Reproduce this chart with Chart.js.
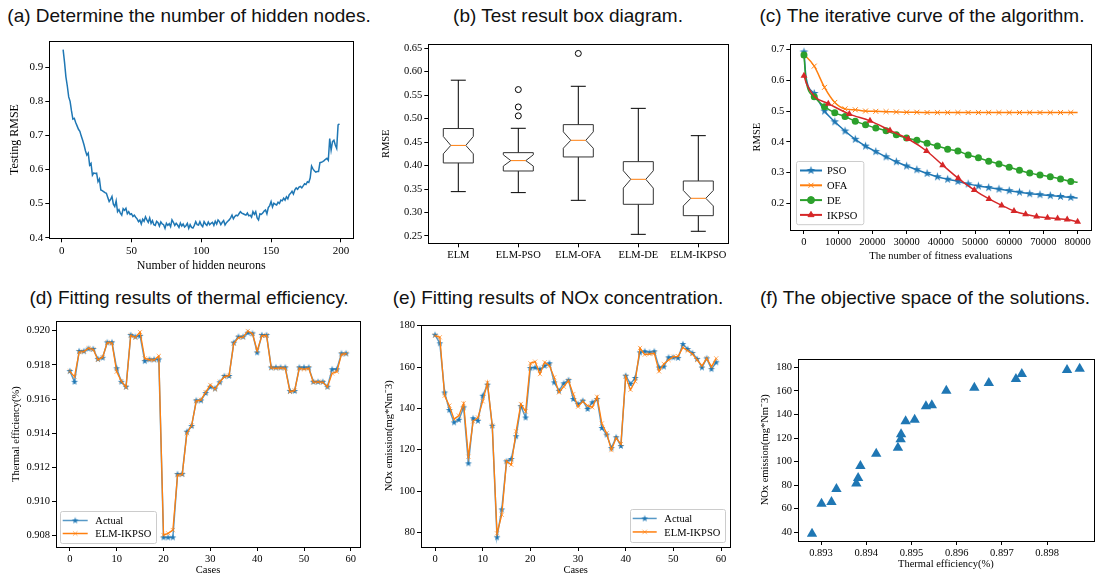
<!DOCTYPE html>
<html>
<head>
<meta charset="utf-8">
<script src="https://cdn.jsdelivr.net/npm/chart.js@4.4.1/dist/chart.umd.min.js"></script>
<style>
body { margin: 0; background: #fff; width: 1113px; height: 574px; position: relative; overflow: hidden; font-family: "Liberation Sans", Arial, sans-serif; }
.title { position: absolute; font-size: 19px; line-height: 22px; color: #111; white-space: nowrap; transform: translateX(-50%); }
canvas { position: absolute; }
</style>
</head>
<body>
<div class="title" style="left:189px;top:5px">(a) Determine the number of hidden nodes.</div>
<div class="title" style="left:568px;top:5px">(b) Test result box diagram.</div>
<div class="title" style="left:922px;top:5px">(c) The iterative curve of the algorithm.</div>
<div class="title" style="left:189px;top:287px">(d) Fitting results of thermal efficiency.</div>
<div class="title" style="left:558px;top:287px">(e) Fitting results of NOx concentration.</div>
<div class="title" style="left:925px;top:287px">(f) The objective space of the solutions.</div>

<canvas id="chartA" width="365" height="248" style="left:0px;top:30px"></canvas>
<canvas id="chartB" width="362" height="235" style="left:372px;top:30px"></canvas>
<canvas id="chartC" width="365" height="236" style="left:742px;top:30px"></canvas>
<canvas id="chartD" width="368" height="268" style="left:0px;top:310px"></canvas>
<canvas id="chartE" width="366" height="268" style="left:372px;top:310px"></canvas>
<canvas id="chartF" width="371" height="234" style="left:742px;top:340px"></canvas>

<script>
// ---- (a) testing RMSE vs hidden neurons (1..199)
var hiddenRmse = [
  0.952, 0.915, 0.872, 0.845, 0.813, 0.800, 0.772, 0.748, 0.750, 0.738,
  0.728, 0.718, 0.712, 0.698, 0.686, 0.672, 0.655, 0.642, 0.648, 0.613,
  0.618, 0.583, 0.590, 0.588, 0.589, 0.564, 0.572, 0.540, 0.538, 0.535,
  0.532, 0.530, 0.518, 0.506, 0.512, 0.521, 0.498, 0.491, 0.508, 0.476,
  0.482, 0.472, 0.466, 0.485, 0.480, 0.486, 0.470, 0.476, 0.468, 0.470,
  0.462, 0.466, 0.460, 0.455, 0.447, 0.452, 0.440, 0.454, 0.448, 0.461,
  0.452, 0.445, 0.458, 0.442, 0.450, 0.438, 0.436, 0.448, 0.444, 0.434,
  0.446, 0.440, 0.438, 0.427, 0.442, 0.436, 0.441, 0.432, 0.452, 0.445,
  0.436, 0.442, 0.437, 0.430, 0.443, 0.434, 0.440, 0.431, 0.435, 0.442,
  0.427, 0.438, 0.430, 0.428, 0.436, 0.447, 0.438, 0.437, 0.447, 0.437,
  0.432, 0.447, 0.440, 0.436, 0.446, 0.438, 0.442, 0.445, 0.436, 0.448,
  0.440, 0.452, 0.447, 0.438, 0.445, 0.450, 0.437, 0.444, 0.448, 0.452,
  0.458, 0.466, 0.455, 0.462, 0.466, 0.464, 0.470, 0.476, 0.472, 0.470,
  0.468, 0.466, 0.472, 0.464, 0.466, 0.460, 0.476, 0.468, 0.476, 0.458,
  0.452, 0.470, 0.468, 0.472, 0.478, 0.481, 0.470, 0.488, 0.494, 0.506,
  0.490, 0.501, 0.498, 0.496, 0.504, 0.500, 0.510, 0.508, 0.516, 0.510,
  0.520, 0.514, 0.526, 0.530, 0.536, 0.528, 0.540, 0.546, 0.542, 0.548,
  0.550, 0.546, 0.552, 0.558, 0.556, 0.564, 0.562, 0.575, 0.610, 0.602,
  0.596, 0.592, 0.594, 0.594, 0.620, 0.621, 0.623, 0.626, 0.630, 0.633,
  0.627, 0.691, 0.657, 0.682, 0.686, 0.672, 0.662, 0.731, 0.734
];
var aXTicks = [0, 50, 100, 150, 200];
var aYTicks = [0.4, 0.5, 0.6, 0.7, 0.8, 0.9];

// ---- (b) box diagram
var boxNames = ['ELM', 'ELM-PSO', 'ELM-OFA', 'ELM-DE', 'ELM-IKPSO'];
var boxLow = [0.3445, 0.3424, 0.326, 0.2535, 0.260];
var boxQ1 = [0.4056, 0.3885, 0.4184, 0.3175, 0.2933];
var boxMed = [0.443, 0.4106, 0.4539, 0.3708, 0.3303];
var boxQ3 = [0.479, 0.4276, 0.4873, 0.4084, 0.3672];
var boxHigh = [0.582, 0.4795, 0.569, 0.522, 0.4638];
var notchLo = [0.425, 0.399, 0.437, 0.352, 0.314];
var notchHi = [0.462, 0.423, 0.472, 0.389, 0.347];
var outlierBox = [2, 2, 2, 3];
var outlierVal = [0.562, 0.525, 0.506, 0.639];
var bYTicks = [0.25, 0.30, 0.35, 0.40, 0.45, 0.50, 0.55, 0.60, 0.65];

// ---- (c) iterative curves
var evalX = [0, 600, 3000, 6000, 9000, 12000, 15000, 18000, 21000, 24000, 27000, 30000, 33000, 36000, 39000,
  42000, 45000, 48000, 51000, 54000, 57000, 60000, 63000, 66000, 69000, 72000, 75000, 78000, 80000];
var psoY = [0.692, 0.610, 0.557, 0.500, 0.465, 0.435, 0.408, 0.386, 0.368, 0.351, 0.335, 0.321, 0.309, 0.297, 0.286,
  0.278, 0.271, 0.263, 0.256, 0.251, 0.246, 0.241, 0.236, 0.231, 0.228, 0.225, 0.222, 0.219, 0.217];
var ofaY = [0.682, 0.677, 0.646, 0.577, 0.528, 0.507, 0.504, 0.500, 0.499, 0.498, 0.497, 0.496, 0.496, 0.495, 0.495,
  0.495, 0.495, 0.495, 0.495, 0.495, 0.495, 0.495, 0.495, 0.495, 0.495, 0.495, 0.495, 0.495, 0.495];
var deY = [0.682, 0.600, 0.546, 0.514, 0.494, 0.482, 0.467, 0.455, 0.445, 0.436, 0.423, 0.412, 0.405, 0.395, 0.386,
  0.376, 0.370, 0.357, 0.348, 0.337, 0.328, 0.317, 0.307, 0.298, 0.292, 0.286, 0.279, 0.271, 0.268];
var ikpsoX = [0, 700, 3000, 7100, 13250, 19300, 25150, 30500, 35850, 40550, 45100, 49800, 54100, 57800, 61400,
  64800, 68000, 71200, 74150, 76950, 80000];
var ikpsoY = [0.615, 0.590, 0.548, 0.524, 0.490, 0.468, 0.437, 0.409, 0.370, 0.324, 0.281, 0.243, 0.214, 0.193, 0.175,
  0.164, 0.157, 0.153, 0.150, 0.147, 0.140];
var cXTicks = [0, 10000, 20000, 30000, 40000, 50000, 60000, 70000, 80000];
var cYTicks = [0.2, 0.3, 0.4, 0.5, 0.6, 0.7];

// ---- (d) thermal efficiency, 60 cases
var effActual = [0.91764, 0.91701, 0.91881, 0.91880, 0.91895, 0.91893, 0.91834, 0.91842, 0.91932, 0.91932,
  0.91780, 0.91701, 0.91672, 0.91975, 0.91965, 0.91970, 0.91822, 0.91832, 0.91832, 0.91832,
  0.90790, 0.90790, 0.90790, 0.91161, 0.91161, 0.91409, 0.91442, 0.91592, 0.91592, 0.91635,
  0.91672, 0.91662, 0.91698, 0.91735, 0.91735, 0.91930, 0.91965, 0.91965, 0.91988, 0.91984,
  0.91873, 0.91975, 0.91975, 0.91785, 0.91785, 0.91785, 0.91785, 0.91647, 0.91647, 0.91785,
  0.91785, 0.91785, 0.91701, 0.91701, 0.91701, 0.91672, 0.91774, 0.91774, 0.91867, 0.91867];
var effPred = [0.91762, 0.91731, 0.91875, 0.91878, 0.91897, 0.91890, 0.91830, 0.91845, 0.91930, 0.91928,
  0.91760, 0.91705, 0.91668, 0.91972, 0.91960, 0.91992, 0.91838, 0.91830, 0.91828, 0.91852,
  0.90804, 0.90814, 0.90833, 0.91155, 0.91158, 0.91400, 0.91445, 0.91588, 0.91595, 0.91640,
  0.91682, 0.91657, 0.91700, 0.91730, 0.91738, 0.91925, 0.91960, 0.91962, 0.91998, 0.91982,
  0.91883, 0.91970, 0.91972, 0.91782, 0.91780, 0.91782, 0.91780, 0.91642, 0.91650, 0.91780,
  0.91774, 0.91780, 0.91698, 0.91700, 0.91698, 0.91670, 0.91750, 0.91760, 0.91862, 0.91865];
var caseTicks = [0, 10, 20, 30, 40, 50, 60];
var dYTicks = [0.908, 0.910, 0.912, 0.914, 0.916, 0.918, 0.920];

// ---- (e) NOx concentration, 60 cases
var noxActual = [175.6, 171.5, 147.7, 139.2, 133.2, 134.5, 140.5, 113.4, 135.2, 134.0,
  146.1, 151.5, 131.6, 77.6, 91.1, 114.4, 115.5, 126.5, 141.1, 135.6,
  159.5, 159.8, 158.9, 160.6, 161.8, 152.6, 148.5, 152.1, 153.7, 144.5,
  142.1, 143.7, 139.7, 142.9, 144.5, 130.5, 127.3, 120.8, 126.0, 121.8,
  155.8, 151.8, 154.7, 167.1, 167.6, 167.1, 167.6, 159.8, 160.2, 164.7,
  164.7, 164.4, 171.1, 168.7, 166.8, 163.9, 159.8, 164.2, 159.0, 162.3];
var noxPred = [175.2, 174.4, 146.1, 141.3, 134.8, 136.5, 142.4, 116.6, 133.7, 135.6,
  143.4, 152.4, 131.6, 79.5, 88.5, 114.4, 112.7, 128.9, 142.1, 138.5,
  161.8, 162.6, 156.6, 162.3, 160.6, 155.0, 147.7, 150.5, 153.4, 146.9,
  140.8, 143.4, 141.3, 140.5, 145.6, 132.7, 127.9, 119.8, 125.6, 122.7,
  155.3, 149.0, 153.1, 169.2, 166.0, 166.3, 166.6, 157.9, 161.5, 163.4,
  165.0, 165.2, 169.5, 167.9, 166.3, 163.4, 160.6, 164.2, 160.2, 164.2];
var eYTicks = [80, 100, 120, 140, 160, 180];

// ---- (f) objective space
var solEff = [0.89280, 0.89301, 0.89323, 0.89334, 0.89378, 0.89382, 0.89387, 0.89422, 0.89470, 0.89476, 0.89477,
  0.89487, 0.89507, 0.89532, 0.89545, 0.89577, 0.89639, 0.89671, 0.89731, 0.89744, 0.89844, 0.89872];
var solNox = [38.8, 64.3, 65.7, 76.7, 81.3, 86.1, 96.3, 106.7, 111.8, 118.9, 123.1,
  134.2, 135.6, 146.9, 147.8, 160.2, 162.7, 166.7, 170.1, 174.3, 177.7, 178.9];
var fXTicks = [0.893, 0.894, 0.895, 0.896, 0.897, 0.898];
var fYTicks = [40, 60, 80, 100, 120, 140, 160, 180];

var BLUE = '#1f77b4', ORANGE = '#ff7f0e', GREEN = '#2ca02c', RED = '#d62728';
var serif = '"Liberation Serif", "Times New Roman", serif';

function pairs(xs, ys) {
  return ys.map(function (y, i) { return { x: xs[i], y: y }; });
}
function indexes(n, start) {
  var out = [];
  for (var i = 0; i < n; i++) out.push(i + start);
  return out;
}

// filled 5 point star like matplotlib '*'
function starImage(r, color) {
  var c = document.createElement('canvas');
  var s = Math.ceil(r * 2 + 2);
  c.width = s; c.height = s;
  var g = c.getContext('2d');
  g.fillStyle = color;
  g.beginPath();
  for (var k = 0; k < 10; k++) {
    var rr = k % 2 === 0 ? r : r * 0.382;
    var a = -Math.PI / 2 + k * Math.PI / 5;
    var px = s / 2 + rr * Math.cos(a), py = s / 2 + rr * Math.sin(a);
    if (k === 0) g.moveTo(px, py); else g.lineTo(px, py);
  }
  g.closePath();
  g.fill();
  return c;
}

function axis(o) {
  return {
    type: 'linear', min: o.min, max: o.max,
    afterBuildTicks: function (s) { s.ticks = o.ticks.map(function (v) { return { value: v }; }); },
    afterFit: function (s) { if (o.horizontal) s.height = o.size; else s.width = o.size; },
    grid: { drawOnChartArea: false, drawTicks: true, tickLength: 4, color: '#000', tickWidth: 1 },
    border: { display: false },
    ticks: { autoSkip: false, maxRotation: 0, color: '#000', padding: 2,
      font: { family: serif, size: o.font }, callback: o.fmt },
    title: { display: !!o.title, text: o.title || '', color: '#000',
      font: { family: serif, size: o.titleFont || o.font }, padding: o.titlePad || 4 }
  };
}

// frame around plot area
Chart.register({
  id: 'frameBox',
  afterDatasetsDraw: function (chart) {
    var a = chart.chartArea, ctx = chart.ctx;
    ctx.save();
    ctx.strokeStyle = '#000';
    ctx.lineWidth = 1;
    ctx.strokeRect(Math.round(a.left) + 0.5, Math.round(a.top) + 0.5,
      Math.round(a.right) - Math.round(a.left), Math.round(a.bottom) - Math.round(a.top));
    ctx.restore();
  }
});

// legend inside the plot area, matplotlib style
Chart.register({
  id: 'innerLegend',
  afterDatasetsDraw: function (chart, args, opts) {
    if (!opts || !opts.corner) return;
    var ctx = chart.ctx, a = chart.chartArea;
    var sets = chart.data.datasets;
    ctx.save();
    ctx.font = opts.font + 'px ' + serif;
    var tw = 0;
    sets.forEach(function (d) { tw = Math.max(tw, ctx.measureText(d.label).width); });
    var w = opts.padX + opts.lineLen + opts.gap + tw + opts.padX + 2;
    var h = opts.padY * 2 + opts.rowH * sets.length;
    var x0 = opts.corner === 'left' ? a.left + opts.margin : a.right - opts.margin - w;
    var y0 = a.bottom - opts.margin - h;
    ctx.fillStyle = 'rgba(255,255,255,0.8)';
    ctx.strokeStyle = '#cccccc';
    ctx.lineWidth = 1;
    ctx.beginPath();
    ctx.roundRect(Math.round(x0) + 0.5, Math.round(y0) + 0.5, w, h, 2);
    ctx.fill();
    ctx.stroke();
    sets.forEach(function (d, i) {
      var cy = y0 + opts.padY + opts.rowH * (i + 0.5);
      var lx = x0 + opts.padX;
      ctx.strokeStyle = d.borderColor;
      ctx.lineWidth = opts.lineW;
      ctx.beginPath();
      ctx.moveTo(lx, cy);
      ctx.lineTo(lx + opts.lineLen, cy);
      ctx.stroke();
      ctx.fillStyle = d.pointBackgroundColor;
      ctx.strokeStyle = d.pointBorderColor;
      ctx.lineWidth = 1;
      var ps = typeof d.pointStyle === 'function' ? d.pointStyle() : d.pointStyle;
      Chart.helpers.drawPoint(ctx, { pointStyle: ps, rotation: 0, radius: opts.markR, borderWidth: 1 },
        lx + opts.lineLen / 2, cy);
      ctx.fillStyle = '#000';
      ctx.textBaseline = 'middle';
      ctx.fillText(d.label, lx + opts.lineLen + opts.gap, cy + 1);
    });
    ctx.restore();
  }
});

var common = {
  responsive: false,
  animation: false,
  events: [],
  plugins: { legend: { display: false }, tooltip: { enabled: false } }
};
function opts(extra) {
  return Object.assign({}, common, extra, {
    plugins: Object.assign({}, common.plugins, extra.plugins || {})
  });
}

// ---------- (a)
new Chart(document.getElementById('chartA'), {
  type: 'line',
  data: { datasets: [{ data: pairs(indexes(hiddenRmse.length, 1), hiddenRmse),
    borderColor: BLUE, borderWidth: 1.5, pointRadius: 0, tension: 0 }] },
  options: opts({
    layout: { padding: { top: 10.7, right: 11.7, left: 0, bottom: 0 } },
    scales: {
      x: axis({ min: -8.9, max: 208.9, ticks: aXTicks, horizontal: true, size: 39.7, font: 11,
        titleFont: 12, title: 'Number of hidden neurons', titlePad: { top: 4, bottom: 4.8 },
        fmt: function (v) { return String(v); } }),
      y: axis({ min: 0.398, max: 0.978, ticks: aYTicks, size: 49.3, font: 11,
        titleFont: 12, title: 'Testing RMSE', titlePad: { top: 8, bottom: 4 },
        fmt: function (v) { return v.toFixed(1); } })
    }
  })
});

// ---------- (b)
var notchBoxes = {
  id: 'notchBoxes',
  beforeDatasetsDraw: function (chart) {
    var ctx = chart.ctx, sx = chart.scales.x, sy = chart.scales.y;
    ctx.save();
    boxNames.forEach(function (name, i) {
      var p = i + 1;
      var X = function (v) { return sx.getPixelForValue(v); };
      var Y = function (v) { return sy.getPixelForValue(v); };
      ctx.strokeStyle = '#000';
      ctx.lineWidth = 1;
      // whiskers and caps
      ctx.beginPath();
      ctx.moveTo(X(p), Y(boxQ1[i])); ctx.lineTo(X(p), Y(boxLow[i]));
      ctx.moveTo(X(p), Y(boxQ3[i])); ctx.lineTo(X(p), Y(boxHigh[i]));
      ctx.moveTo(X(p - 0.125), Y(boxLow[i])); ctx.lineTo(X(p + 0.125), Y(boxLow[i]));
      ctx.moveTo(X(p - 0.125), Y(boxHigh[i])); ctx.lineTo(X(p + 0.125), Y(boxHigh[i]));
      ctx.stroke();
      // notched box
      ctx.strokeStyle = '#333';
      ctx.beginPath();
      ctx.moveTo(X(p - 0.25), Y(boxQ1[i]));
      ctx.lineTo(X(p - 0.25), Y(notchLo[i]));
      ctx.lineTo(X(p - 0.125), Y(boxMed[i]));
      ctx.lineTo(X(p - 0.25), Y(notchHi[i]));
      ctx.lineTo(X(p - 0.25), Y(boxQ3[i]));
      ctx.lineTo(X(p + 0.25), Y(boxQ3[i]));
      ctx.lineTo(X(p + 0.25), Y(notchHi[i]));
      ctx.lineTo(X(p + 0.125), Y(boxMed[i]));
      ctx.lineTo(X(p + 0.25), Y(notchLo[i]));
      ctx.lineTo(X(p + 0.25), Y(boxQ1[i]));
      ctx.closePath();
      ctx.stroke();
      // median
      ctx.strokeStyle = ORANGE;
      ctx.beginPath();
      ctx.moveTo(X(p - 0.125), Y(boxMed[i])); ctx.lineTo(X(p + 0.125), Y(boxMed[i]));
      ctx.stroke();
    });
    ctx.restore();
  }
};
new Chart(document.getElementById('chartB'), {
  type: 'scatter',
  data: { datasets: [{ label: 'outliers', data: pairs(outlierBox, outlierVal),
    pointStyle: 'circle', pointRadius: 3, borderWidth: 1, borderColor: '#000', backgroundColor: 'rgba(0,0,0,0)' }] },
  plugins: [notchBoxes],
  options: opts({
    layout: { padding: { top: 14.3, right: 5.7, left: 0, bottom: 0 } },
    scales: {
      x: axis({ min: 0.5, max: 5.5, ticks: [1, 2, 3, 4, 5], horizontal: true, size: 21.7, font: 10.5,
        fmt: function (v) { return boxNames[v - 1]; } }),
      y: axis({ min: 0.2344, max: 0.6585, ticks: bYTicks, size: 56.3, font: 10.5,
        title: 'RMSE', titlePad: { top: 7.5, bottom: 4 },
        fmt: function (v) { return v.toFixed(2); } })
    }
  })
});

// ---------- (c)
function hideIdx(list, r) {
  return function (ctx) { return list.indexOf(ctx.dataIndex) >= 0 ? 0 : r; };
}
var lastEval = evalX.length - 1;
var starC = starImage(4.5, BLUE);
new Chart(document.getElementById('chartC'), {
  type: 'line',
  data: { datasets: [
    { label: 'PSO', data: pairs(evalX, psoY), borderColor: BLUE, borderWidth: 1.5, order: 4,
      pointStyle: starC, pointRadius: hideIdx([1, lastEval], 4), pointBackgroundColor: BLUE, pointBorderColor: BLUE,
      cubicInterpolationMode: 'monotone' },
    { label: 'OFA', data: pairs(evalX, ofaY), borderColor: ORANGE, borderWidth: 1.5, order: 3,
      pointStyle: 'crossRot', pointRadius: hideIdx([1, lastEval], 3.5), pointBorderWidth: 1,
      pointBackgroundColor: ORANGE, pointBorderColor: ORANGE, cubicInterpolationMode: 'monotone' },
    { label: 'DE', data: pairs(evalX, deY), borderColor: GREEN, borderWidth: 1.5, order: 2,
      pointStyle: 'circle', pointRadius: hideIdx([1, lastEval], 3.5), pointBorderWidth: 0,
      pointBackgroundColor: GREEN, pointBorderColor: GREEN, cubicInterpolationMode: 'monotone' },
    { label: 'IKPSO', data: pairs(ikpsoX, ikpsoY), borderColor: RED, borderWidth: 1.5, order: 1,
      pointStyle: 'triangle', pointRadius: hideIdx([1, 2], 4), pointBorderWidth: 0,
      pointBackgroundColor: RED, pointBorderColor: RED, cubicInterpolationMode: 'monotone' }
  ] },
  options: opts({
    layout: { padding: { top: 14.3, right: 15.7, left: 0, bottom: 0 } },
    plugins: { innerLegend: { corner: 'left', margin: 5.7, padX: 4, padY: 2, rowH: 14.8, lineLen: 22, gap: 5,
      font: 10.5, markR: 3.5, lineW: 2 } },
    scales: {
      x: axis({ min: -4000, max: 84000, ticks: cXTicks, horizontal: true, size: 36, font: 10.5,
        title: 'The number of fitness evaluations', titlePad: { top: 4, bottom: 3.7 },
        fmt: function (v) { return String(v); } }),
      y: axis({ min: 0.113, max: 0.717, ticks: cYTicks, size: 48.3, font: 10.5,
        title: 'RMSE', titlePad: { top: 8.7, bottom: 4 },
        fmt: function (v) { return v.toFixed(1); } })
    }
  })
});

// ---------- (d)
var caseIdx = indexes(effActual.length, 0);
var starD = starImage(3.6, BLUE);
new Chart(document.getElementById('chartD'), {
  type: 'line',
  data: { datasets: [
    { label: 'Actual', data: pairs(caseIdx, effActual), borderColor: 'rgba(31,119,180,0.75)', borderWidth: 1.5,
      order: 2, pointStyle: starD, pointRadius: 3, pointBackgroundColor: BLUE, pointBorderColor: BLUE, tension: 0 },
    { label: 'ELM-IKPSO', data: pairs(caseIdx, effPred), borderColor: ORANGE, borderWidth: 1.3,
      order: 1, pointStyle: 'crossRot', pointRadius: 3, pointBorderWidth: 1,
      pointBackgroundColor: 'rgba(255,127,14,0.6)', pointBorderColor: 'rgba(255,127,14,0.6)', tension: 0 }
  ] },
  options: opts({
    layout: { padding: { top: 11.3, right: 8, left: 0, bottom: 0 } },
    plugins: { innerLegend: { corner: 'left', margin: 4, padX: 2.7, padY: 3, rowH: 13, lineLen: 25, gap: 7.6,
      font: 10.5, markR: 3.2, lineW: 1.5 } },
    scales: {
      x: axis({ min: -2.95, max: 61.95, ticks: caseTicks, horizontal: true, size: 31, font: 10.5,
        title: 'Cases', titlePad: { top: 4, bottom: 1.4 }, fmt: function (v) { return String(v); } }),
      y: axis({ min: 0.90734, max: 0.92055, ticks: dYTicks, size: 56, font: 10.5,
        title: 'Thermal efficiency(%)', titlePad: { top: 10.4, bottom: 4 },
        fmt: function (v) { return v.toFixed(3); } })
    }
  })
});

// ---------- (e)
new Chart(document.getElementById('chartE'), {
  type: 'line',
  data: { datasets: [
    { label: 'Actual', data: pairs(caseIdx, noxActual), borderColor: 'rgba(31,119,180,0.75)', borderWidth: 1.5,
      order: 2, pointStyle: starD, pointRadius: 3, pointBackgroundColor: BLUE, pointBorderColor: BLUE, tension: 0 },
    { label: 'ELM-IKPSO', data: pairs(caseIdx, noxPred), borderColor: ORANGE, borderWidth: 1.3,
      order: 1, pointStyle: 'crossRot', pointRadius: 3, pointBorderWidth: 1,
      pointBackgroundColor: 'rgba(255,127,14,0.6)', pointBorderColor: 'rgba(255,127,14,0.6)', tension: 0 }
  ] },
  options: opts({
    layout: { padding: { top: 14.67, right: 7.7, left: 0, bottom: 0 } },
    plugins: { innerLegend: { corner: 'right', margin: 5.3, padX: 2.7, padY: 3, rowH: 13.5, lineLen: 24, gap: 7.6,
      font: 10.5, markR: 3.2, lineW: 1.5 } },
    scales: {
      x: axis({ min: -2.95, max: 61.95, ticks: caseTicks, horizontal: true, size: 31, font: 10.5,
        title: 'Cases', titlePad: { top: 4, bottom: 1.4 }, fmt: function (v) { return String(v); } }),
      y: axis({ min: 72.9, max: 180.5, ticks: eYTicks, size: 49, font: 10.5,
        title: 'NOx emission(mg*Nm\u207B3)', titlePad: { top: 11, bottom: 4 },
        fmt: function (v) { return String(v); } })
    }
  })
});

// ---------- (f)
new Chart(document.getElementById('chartF'), {
  type: 'scatter',
  data: { datasets: [{ label: 'solutions', data: pairs(solEff, solNox), pointStyle: 'triangle',
    pointRadius: 6, pointBorderWidth: 0, backgroundColor: BLUE, borderColor: BLUE }] },
  options: opts({
    layout: { padding: { top: 18.67, right: 19.3, left: 0, bottom: 0 } },
    scales: {
      x: axis({ min: 0.89249, max: 0.89903, ticks: fXTicks, horizontal: true, size: 33, font: 10.5,
        title: 'Thermal efficiency(%)', titlePad: { top: 4, bottom: 3 },
        fmt: function (v) { return v.toFixed(3); } }),
      y: axis({ min: 32.6, max: 187.35, ticks: fYTicks, size: 56, font: 10.5,
        title: 'NOx emission(mg*Nm\u207B3)', titlePad: { top: 17, bottom: 4 },
        fmt: function (v) { return String(v); } })
    }
  })
});
</script>
</body>
</html>
